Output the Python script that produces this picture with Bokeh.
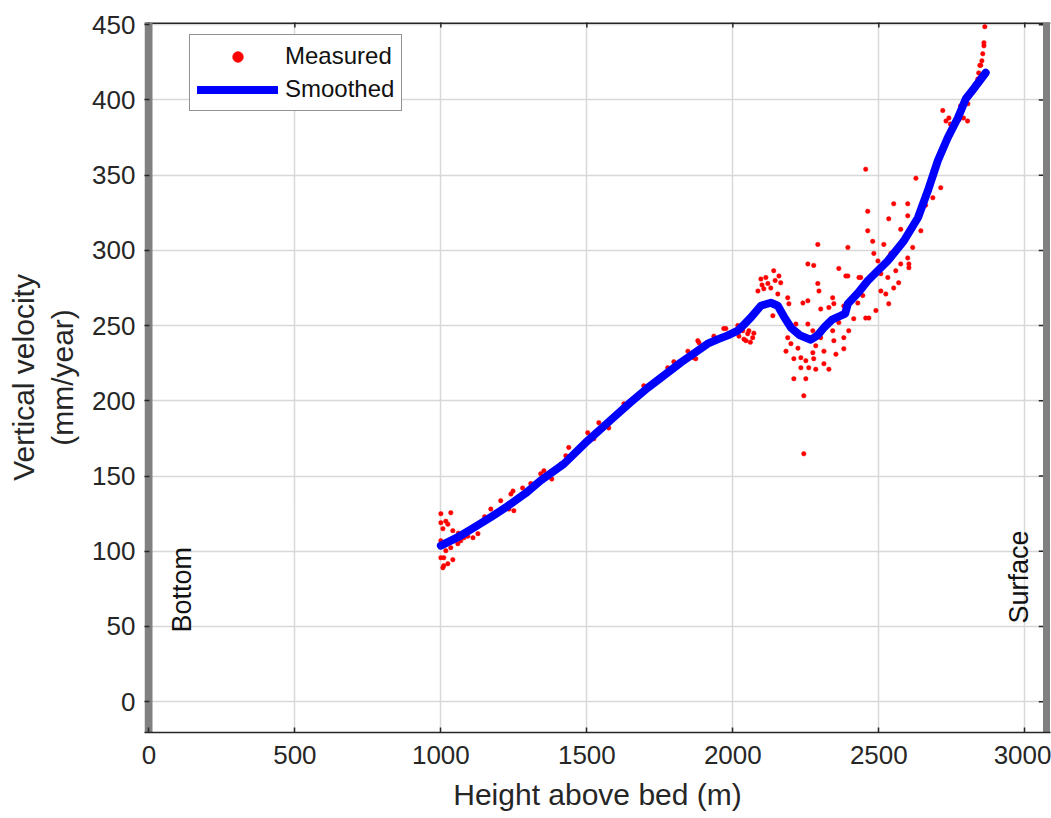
import math
from bokeh.plotting import figure
from bokeh.models import Range1d, FixedTicker, Legend, LegendItem, ColumnDataSource
from bokeh.core.properties import value
from bokeh.embed import file_html
from bokeh.resources import INLINE

# ---- data ----
meas_x = [1000, 1034, 1017, 1000, 1024, 1007, 1041, 1000, 1034, 1058, 1045, 1068, 1079, 1092, 1110, 1127,
          1017, 1000, 1010, 1041, 1010, 1024, 1007, 1137, 1171, 1205, 1233, 1250, 1247, 1240, 1308, 1342,
          1353, 1428, 1438, 1411, 1469, 1060, 1150, 1190, 1280, 1380, 1480,
          1503, 1541, 1575, 1524, 1627, 1695, 1777, 1798, 1846, 1873, 1884, 1935, 1976, 2017,
          1969, 1880, 1866,
          2034, 2051, 2068, 2038, 2055, 2021, 2072, 2045, 2060,
          2140, 2158, 2164, 2096, 2120, 2086, 2106, 2130, 2154, 2188, 2137, 2100, 2113, 2145,
          2479, 2517, 2257, 2277, 2575, 2603, 2291, 2295, 2394, 2432, 2507, 2531, 2568, 2507, 2524, 2534,
          2490, 2455, 2466, 2414, 2445, 2428, 2380, 2346, 2329, 2301, 2257, 2240, 2192, 2216, 2257, 2274,
          2301, 2346, 2380, 2397, 2342, 2363, 2188, 2199, 2223, 2182, 2233, 2209, 2250, 2274, 2284, 2277,
          2312, 2353, 2380, 2260, 2284, 2233, 2312, 2329, 2209, 2250, 2243, 2243,
          2455, 2627, 2712, 2685, 2551, 2462, 2599, 2599, 2534, 2462, 2575, 2644, 2291, 2394, 2616, 2483,
          2541, 2599, 2363, 2497, 2558, 2603, 2438, 2387, 2551, 2342,
          2730, 2745, 2760, 2775, 2790, 2804, 2740, 2719, 2805,
          2660, 2690, 2720, 2750, 2780,
          2863, 2860, 2860, 2856, 2853, 2849, 2842, 2839, 2832, 2825, 2815, 2846]
meas_y = [125, 125.6, 120, 119, 118, 115, 113.7, 107, 102.4, 105, 107, 107, 109, 110, 109, 111.7,
          100.4, 95.7, 95.7, 94.4, 90.4, 91.7, 89, 118, 128, 133.6, 128, 127, 140, 138, 145, 151.5,
          153.5, 163.5, 169, 158, 166.8, 112, 123, 124, 142, 148, 170,
          178.8, 185.5, 182, 174.8, 198, 210, 222, 226, 233, 228, 238.6, 243, 248, 250,
          248, 240, 228.7,
          246.6, 244.6, 242, 241, 246.6, 243, 245, 240, 239,
          286.5, 283, 278.5, 281, 278, 273, 274.5, 275, 271, 268.5, 256.6, 277, 282, 280,
          306, 304, 291, 290, 291, 291, 278, 273, 283, 282, 284.5, 282, 278.5, 273, 271, 264.5,
          260, 255, 255, 254.6, 270, 265, 263, 264.6, 262, 261, 266.5, 265, 264.5, 251, 251, 246.6,
          242, 240, 242, 246.6, 246.6, 252, 242, 238, 235, 233, 228.7, 228, 226.7, 232, 236.6, 228,
          233, 231, 234.6, 222, 221, 222, 224.7, 221, 214.7, 214.7, 203.4, 164.8,
          354, 348, 341.7, 335, 331, 326, 331, 323, 321, 313, 314, 313, 304, 302, 302, 298,
          298, 295, 288, 293, 286.5, 288.5, 282, 283, 275, 268.5,
          386, 384, 385, 387, 388, 386, 388, 393, 397.5,
          330, 350, 366, 380, 396,
          448.7, 438, 436, 430.7, 426, 423, 418, 414, 410.8, 406, 404, 423]

smooth_x = [1000, 1060, 1113, 1170, 1229, 1290, 1342, 1421, 1503, 1592, 1650, 1709, 1765, 1822, 1870,
            1914, 1950, 1983, 2017, 2040, 2060, 2096, 2130, 2154, 2175, 2199, 2230, 2267, 2290, 2312,
            2340, 2370, 2385, 2394, 2430, 2462, 2531, 2586, 2634, 2668, 2702, 2736, 2771, 2798, 2825, 2866]
smooth_y = [103.7, 109.5, 115.7, 122.5, 130, 138.5, 147, 158, 173.5, 189, 199, 208.7, 217, 225.5, 232,
            238, 241, 243.5, 246.6, 251, 255, 263.2, 265.2, 263.2, 256, 248.6, 243.5, 240.6, 243.5, 248.6,
            254, 256.6, 258, 264.6, 272, 279.8, 293.1, 306.4, 321.7, 339.7, 359.6, 374.9, 388.2, 400.8, 407.5, 418.1]

x_ticks = [0, 500, 1000, 1500, 2000, 2500, 3000]
y_ticks = [0, 50, 100, 150, 200, 250, 300, 350, 400, 450]
bed_x, surface_x = 0, 3076
label_texts = ["Bottom", "Surface"]
label_x = [112, 2979]
label_y = [46, 52]

X_START, X_END = -15, 3088
Y_START, Y_END = -20.5, 451.5
X_BOX_RIGHT = 3065   # right edge of the axes box (under the surface bar)

FONT = "Liberation Sans"
TXT = "#262626"

p = figure(frame_width=906, frame_height=710, output_backend="svg", toolbar_location=None,
           x_range=Range1d(X_START, X_END), y_range=Range1d(Y_START, Y_END),
           min_border_left=144, min_border_right=1, min_border_top=22, min_border_bottom=86,
           background_fill_color="white", border_fill_color="white")
p.outline_line_color = None

# grid
p.xgrid.ticker = FixedTicker(ticks=x_ticks)
p.ygrid.ticker = FixedTicker(ticks=y_ticks)
for g in (p.xgrid, p.ygrid):
    g.grid_line_color = "#D8D8D8"
    g.grid_line_width = 1.5

# main axes
for ax, ticks in ((p.xaxis[0], x_ticks), (p.yaxis[0], y_ticks)):
    ax.ticker = FixedTicker(ticks=ticks)
    ax.major_tick_in = 5
    ax.major_tick_out = 0
    ax.minor_tick_line_color = None
    ax.major_tick_line_color = TXT
    ax.major_tick_line_width = 1.5
    ax.axis_line_color = TXT
    ax.axis_line_width = 1.5
    ax.major_label_text_font = FONT
    ax.major_label_text_font_size = "26px"
    ax.major_label_text_color = TXT
    ax.axis_label_text_font = FONT
    ax.axis_label_text_font_size = "30px"
    ax.axis_label_text_font_style = "normal"
    ax.axis_label_text_color = TXT

p.xaxis.axis_label = "Height above bed (m)"
p.xaxis.major_label_standoff = 13
p.xaxis.axis_label_standoff = 11
p.yaxis.axis_label = "Vertical velocity\n(mm/year)"
p.yaxis.major_label_standoff = 9
p.yaxis.axis_label_standoff = 10
p.yaxis.axis_line_color = None

# box top line and mirrored inward ticks (top / right)
p.hspan(y=[Y_END], line_color=TXT, line_width=3)
p.scatter(x=x_ticks, y=[Y_END] * len(x_ticks), marker="dash", angle=math.pi / 2, size=10,
          line_color=TXT, line_width=1.5)
p.scatter(x=[X_BOX_RIGHT] * len(y_ticks), y=y_ticks, marker="dash", size=10,
          line_color=TXT, line_width=1.5)

# bed / surface bars
p.vspan(x=[bed_x], line_color="#808080", line_width=8)
p.vspan(x=[surface_x], line_color="#808080", line_width=7)

src_m = ColumnDataSource(dict(x=meas_x, y=meas_y))
src_s = ColumnDataSource(dict(x=smooth_x, y=smooth_y))
r_m = p.scatter("x", "y", source=src_m, size=4.5, marker="circle", fill_color="#FF0000",
                line_color="#FF0000", line_width=0.5)
r_s = p.line("x", "y", source=src_s, line_color="#0000FF", line_width=8, line_join="round", line_cap="round")

src_t = ColumnDataSource(dict(x=label_x, y=label_y, t=label_texts))
p.text("x", "y", text="t", source=src_t, angle=math.pi / 2, text_align="left", text_baseline="middle",
       text_font=value(FONT), text_font_size="27px", text_color="#111111")

legend = Legend(items=[LegendItem(label="Measured", renderers=[r_m]),
                       LegendItem(label="Smoothed", renderers=[r_s])],
                location=(45, 621), label_text_font=FONT, label_text_font_size="24px",
                label_text_color="#111111", glyph_width=81, glyph_height=27, label_height=27,
                spacing=5, padding=7, margin=0, label_standoff=7,
                border_line_color=TXT, border_line_width=1.5, background_fill_color="white",
                background_fill_alpha=1)
p.add_layout(legend, "center")

open("out.html", "w").write(file_html(p, INLINE))
